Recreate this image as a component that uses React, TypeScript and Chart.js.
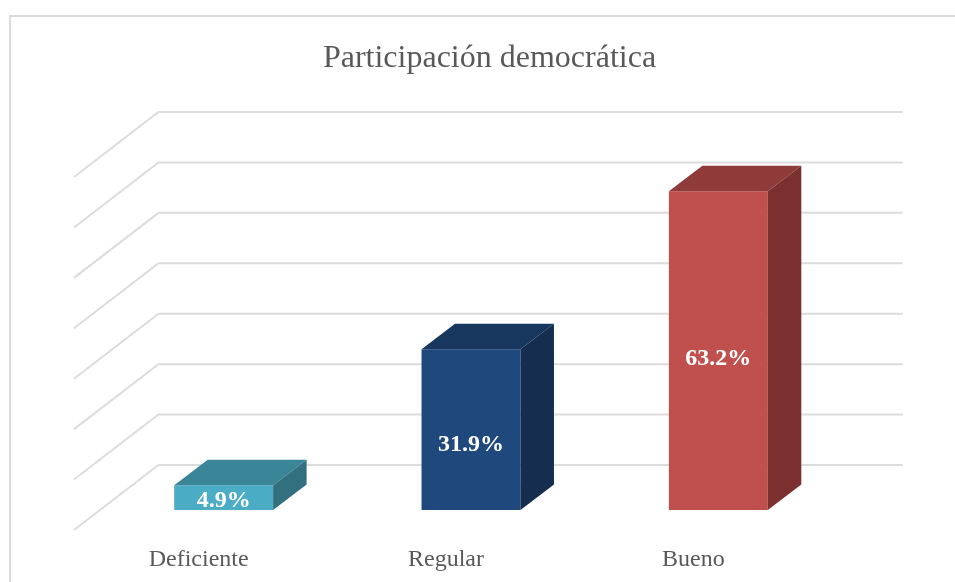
import React, { useEffect, useRef } from "react";
import { Chart, registerables } from "chart.js";

Chart.register(...registerables);

const titleText = "Participación democrática";
const categories = ["Deficiente", "Regular", "Bueno"];
const seriesValues = [4.9, 31.9, 63.2];
const frontColors = ["#4BACC6", "#1F497D", "#C0504D"];
const topColors = ["#3B8599", "#17375E", "#8F3B39"];
const sideColors = ["#33707F", "#152E4F", "#7B302F"];
const labelNudges = [3, 15, 8];

const FONT = '"Liberation Serif", "Times New Roman", serif';
const GRID = "#DCDCDC";
const TEXT = "#595959";

const threeD = {
  id: "threeD",
  beforeDraw(chart: any) {
    const c = chart.ctx;
    c.save();
    c.strokeStyle = "#DADADA";
    c.lineWidth = 2;
    c.beginPath();
    c.moveTo(10, 582);
    c.lineTo(10, 16);
    c.lineTo(955, 16);
    c.stroke();
    c.restore();
  },
  beforeDatasetsDraw(chart: any) {
    const c = chart.ctx;
    const { left, right } = chart.chartArea;
    const yScale = chart.scales.y;
    c.save();
    c.strokeStyle = GRID;
    c.lineWidth = 2;
    c.lineJoin = "miter";
    for (const t of yScale.ticks) {
      const y = yScale.getPixelForValue(t.value);
      c.beginPath();
      c.moveTo(left - 26, y + 20);
      c.lineTo(left + 58.5, y - 45);
      c.lineTo(right + 60.7, y - 45);
      c.stroke();
    }
    c.restore();
  },
  afterDatasetsDraw(chart: any) {
    const c = chart.ctx;
    const meta = chart.getDatasetMeta(0);
    const dx = 33.5;
    const dy = 25.5;
    c.save();
    meta.data.forEach((bar: any, i: number) => {
      const l = bar.x - bar.width / 2;
      const r = bar.x + bar.width / 2;
      const top = bar.y;
      const bottom = bar.base;
      c.fillStyle = topColors[i];
      c.beginPath();
      c.moveTo(l, top);
      c.lineTo(l + dx, top - dy);
      c.lineTo(r + dx, top - dy);
      c.lineTo(r, top);
      c.closePath();
      c.fill();
      c.fillStyle = sideColors[i];
      c.beginPath();
      c.moveTo(r, top);
      c.lineTo(r + dx, top - dy);
      c.lineTo(r + dx, bottom - dy);
      c.lineTo(r, bottom);
      c.closePath();
      c.fill();
      c.fillStyle = "#FFFFFF";
      c.font = `bold 24px ${FONT}`;
      c.textAlign = "center";
      c.textBaseline = "middle";
      c.fillText(`${seriesValues[i].toFixed(1)}%`, bar.x, (top + bottom) / 2 + labelNudges[i]);
    });
    c.restore();
  },
};

export default function App() {
  const ref = useRef<HTMLCanvasElement | null>(null);
  useEffect(() => {
    if (!ref.current) return;
    const chart = new Chart(ref.current, {
      type: "bar",
      data: {
        labels: categories,
        datasets: [
          {
            data: seriesValues,
            backgroundColor: frontColors,
            borderWidth: 0,
            barPercentage: 1,
            categoryPercentage: 0.4,
            yAxisID: "y",
          },
        ],
      },
      plugins: [threeD],
      options: {
        responsive: false,
        animation: false,
        layout: { padding: { left: 24, right: 0, top: 0, bottom: 0 } },
        plugins: {
          legend: { display: false },
          tooltip: { enabled: false },
          title: {
            display: true,
            text: titleText,
            color: TEXT,
            font: { family: FONT, size: 32, weight: "normal" },
            padding: { top: 39, bottom: 79.6 },
          },
        },
        scales: {
          x: {
            grid: { display: false },
            border: { display: false },
            ticks: {
              color: TEXT,
              font: { family: FONT, size: 24 },
              labelOffset: -25,
              padding: 27,
              maxRotation: 0,
            },
            afterFit(s: any) {
              s.height = 72;
            },
          },
          y: {
            min: 0,
            max: 70,
            position: "left",
            grid: { display: false },
            border: { display: false },
            ticks: { display: false, stepSize: 10 },
            afterFit(s: any) {
              s.width = 76;
            },
          },
          yPad: {
            type: "linear",
            position: "right",
            grid: { display: false },
            border: { display: false },
            ticks: { display: false },
            afterFit(s: any) {
              s.width = 113;
            },
          },
        },
      },
    } as any);
    return () => chart.destroy();
  }, []);
  return (
    <div style={{ position: "fixed", left: 0, top: 0, width: 955, height: 582, background: "#fff" }}>
      <canvas ref={ref} width={955} height={582} style={{ display: "block" }} />
    </div>
  );
}
